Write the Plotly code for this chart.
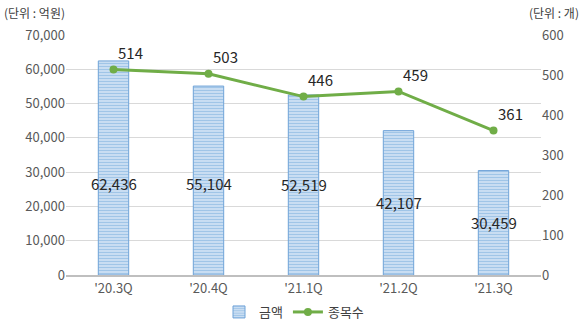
import plotly.graph_objects as go

categories = ["'20.3Q", "'20.4Q", "'21.1Q", "'21.2Q", "'21.3Q"]
amount = [62436, 55104, 52519, 42107, 30459]
count = [514, 503, 446, 459, 361]

FONT = "Noto Sans CJK KR, Malgun Gothic, sans-serif"

fig = go.Figure()
fig.add_trace(go.Bar(
    x=categories, y=amount, name="금액",
    marker=dict(color="#DEEBF7", line=dict(color="#6FA3D8", width=1),
                pattern=dict(shape="-", fgcolor="#5B9BD5", bgcolor="#E4EEF9", size=3, solidity=0.6)),
    width=0.32, yaxis="y",
))
fig.add_trace(go.Scatter(
    x=categories, y=count, name="종목수", mode="lines+markers",
    line=dict(color="#70AD47", width=3),
    marker=dict(color="#70AD47", size=8),
    yaxis="y2",
))

# bar value labels (Excel-style centered labels, capped height)
for c, v in zip(categories, amount):
    fig.add_annotation(x=c, y=min(v / 2, 26800), yref="y", text=f"{v:,}", showarrow=False,
                       font=dict(size=15, color="#262626", family=FONT))
# line value labels
for c, v in zip(categories, count):
    fig.add_annotation(x=c, y=v, yref="y2", text=str(v), showarrow=False,
                       xshift=17, yshift=17,
                       font=dict(size=15, color="#262626", family=FONT))

fig.add_annotation(x=0, y=1, xref="paper", yref="paper", xanchor="left", yanchor="top",
                   text="(단위 : 억원)", showarrow=False, xshift=-64, yshift=33,
                   font=dict(size=12, color="#404040", family=FONT))
fig.add_annotation(x=1, y=1, xref="paper", yref="paper", xanchor="right", yanchor="top",
                   text="(단위 : 개)", showarrow=False, xshift=40, yshift=33,
                   font=dict(size=12, color="#404040", family=FONT))

fig.update_layout(
    width=583, height=327,
    margin=dict(l=66, r=42, t=35, b=52, autoexpand=False),
    paper_bgcolor="white", plot_bgcolor="white",
    font=dict(family=FONT, color="#595959", size=13),
    showlegend=True,
    legend=dict(orientation="h", x=0.48, xanchor="center", xref="paper",
                y=0.0, yanchor="bottom", yref="container",
                font=dict(size=13, color="#404040"), itemwidth=30, tracegroupgap=0),
    xaxis=dict(showgrid=False, showline=True, linecolor="#BFBFBF", linewidth=2,
               ticks="", tickfont=dict(size=13, color="#595959")),
    yaxis=dict(range=[0, 70000], dtick=10000, tickformat=",", showgrid=True,
               gridcolor="#D9D9D9", zeroline=False, ticks="", ticklen=0,
               tickfont=dict(size=13, color="#595959")),
    yaxis2=dict(range=[0, 600], dtick=100, overlaying="y", side="right", showgrid=False,
                zeroline=False, tickfont=dict(size=13, color="#595959")),
)

fig.write_html("out.html")
